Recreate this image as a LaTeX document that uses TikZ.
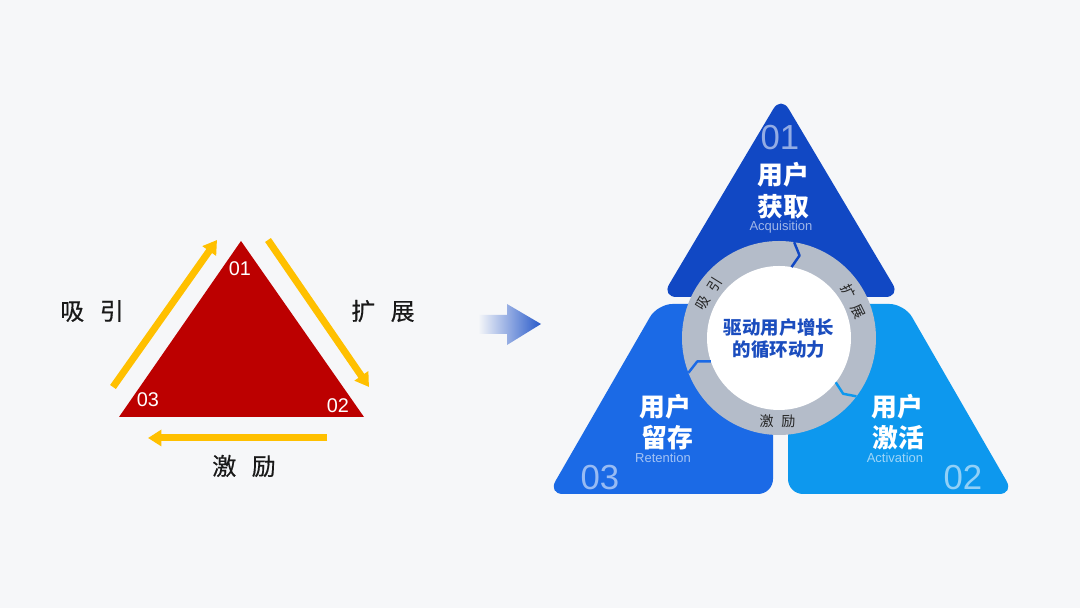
\documentclass[tikz,border=0pt]{standalone}
\usepackage{fontspec}
\setmainfont{Liberation Sans}
\newfontfamily\cjk{Noto Sans CJK SC}
\newfontfamily\cjkm{Noto Sans CJK SC}[FakeBold=0.5]
\usepackage{tikz}
\usetikzlibrary{arrows.meta,calc,positioning}
\definecolor{bgc}{HTML}{F6F7F9}
\definecolor{redtri}{HTML}{BC0000}
\definecolor{gold}{HTML}{FFC000}
\definecolor{topblue}{HTML}{1148C4}
\definecolor{midblue}{HTML}{1B6AE6}
\definecolor{skyblue}{HTML}{0D98EE}
\definecolor{ringgray}{HTML}{B4BCC9}
\definecolor{txtblue}{HTML}{1B4DBE}
\tikzset{
  num/.style={text=white,font=\fontsize{11.3}{13}\selectfont,inner sep=0},
  side/.style={text=black!90,font=\cjkm\fontsize{13.6}{16}\selectfont,inner sep=0},
  flow/.style={draw=gold,line width=0.14cm,-{Triangle[length=0.27cm,width=0.32cm]}},
  piece/.style={rounded corners=0.3cm},
  bignum/.style={text=white,text opacity=0.55,font=\fontsize{19.8}{22}\selectfont,inner sep=0},
  title/.style={text=white,font=\cjk\bfseries\fontsize{14.7}{17}\selectfont,inner sep=0},
  sub/.style={text=white,text opacity=0.6,font=\fontsize{7.4}{9}\selectfont,inner sep=0},
  ringlbl/.style={text=black!85,font=\cjk\fontsize{8}{9}\selectfont,inner sep=0},
  core/.style={text=txtblue,font=\cjk\bfseries\fontsize{10.5}{13}\selectfont,inner sep=0},
  cut/.style={line width=1.4pt,line join=round}
}
\begin{document}
\begin{tikzpicture}[x=0.02cm,y=0.02cm]
\fill[bgc] (0,0) rectangle (1080,608);
\useasboundingbox (0,0) rectangle (1080,608);

% left: red triangle
\coordinate (T1) at (241,367);
\coordinate (T2) at (364,191);
\coordinate (T3) at (119,191);
\fill[redtri] (T1) -- (T2) -- (T3) -- cycle;
\node[num] (n1) at (240,339) {01};
\node[num] (n2) at (338,202) {02};
\node[num] (n3) at (148,208) {03};

\coordinate (xs) at (113,221);
\coordinate (xe) at (217,368);
\coordinate (ks) at (268,368);
\coordinate (ke) at (369,221);
\coordinate (js) at (327,170);
\coordinate (je) at (148,170);
\draw[flow] (xs) -- (xe);
\draw[flow] (ks) -- (ke);
\draw[flow] (js) -- (je);
\node[side] (xiyin) at (92,297) {吸\hspace{0.65em}引};
\node[side] (kuozhan) at (383,297) {扩\hspace{0.65em}展};
\node[side] (jili) at (244,142) {激\hspace{0.65em}励};

% middle arrow
\shade[left color=bgc,right color=topblue!90] (478,274) -- (507,274) -- (507,263)
  -- (541,284) -- (507,304) -- (507,293) -- (478,293) -- cycle;

% right: three pieces
\coordinate (c) at (779,270);
\fill[topblue,piece] (781,512) -- (900.4,311) -- (661.6,311) -- cycle;
\fill[midblue,piece] (657.5,304) -- (773,304) -- (773,114) -- (548,114) -- cycle;
\fill[skyblue,piece] (788,304) -- (904.5,304) -- (1014,114) -- (788,114) -- cycle;

% ring
\fill[ringgray] (c) circle[radius=97];
\fill[white] (c) circle[radius=72];
\draw[cut,topblue] ($(c)+(81:97)$) -- ($(c)+(76:85)$) -- ($(c)+(80:72)$);
\draw[cut,midblue] ($(c)+(201:97)$) -- ($(c)+(196:85)$) -- ($(c)+(199:72)$);
\draw[cut,skyblue] ($(c)+(323:97)$) -- ($(c)+(319:85)$) -- ($(c)+(322:72)$);
\node[ringlbl,rotate=58] (rxy) at ($(c)+(148:83)$) {吸\hspace{0.55em}引};
\node[ringlbl,rotate=-64] (rkz) at ($(c)+(26:83)$) {扩\hspace{0.55em}展};
\node[ringlbl] (rjl) at ($(c)+(269:83)$) {激\hspace{0.55em}励};
\node[core] (core1) at (779,280) {驱动用户增长};
\node[core] (core2) at (779,258) {的循环动力};

% piece texts
\node[bignum] (p1) at (780,470) {01};
\node[title] (t1a) at (783,433) {用户};
\node[title] (t1b) at (783,401) {获取};
\node[sub] (s1) at (781,381) {Acquisition};

\node[bignum] (p3) at (600,130) {03};
\node[title] (t3a) at (665,201) {用户};
\node[title] (t3b) at (667,170) {留存};
\node[sub] (s3) at (663,150) {Retention};

\node[bignum] (p2) at (963,130) {02};
\node[title] (t2a) at (897,201) {用户};
\node[title] (t2b) at (898,170) {激活};
\node[sub] (s2) at (895,150) {Activation};
\end{tikzpicture}
\end{document}
